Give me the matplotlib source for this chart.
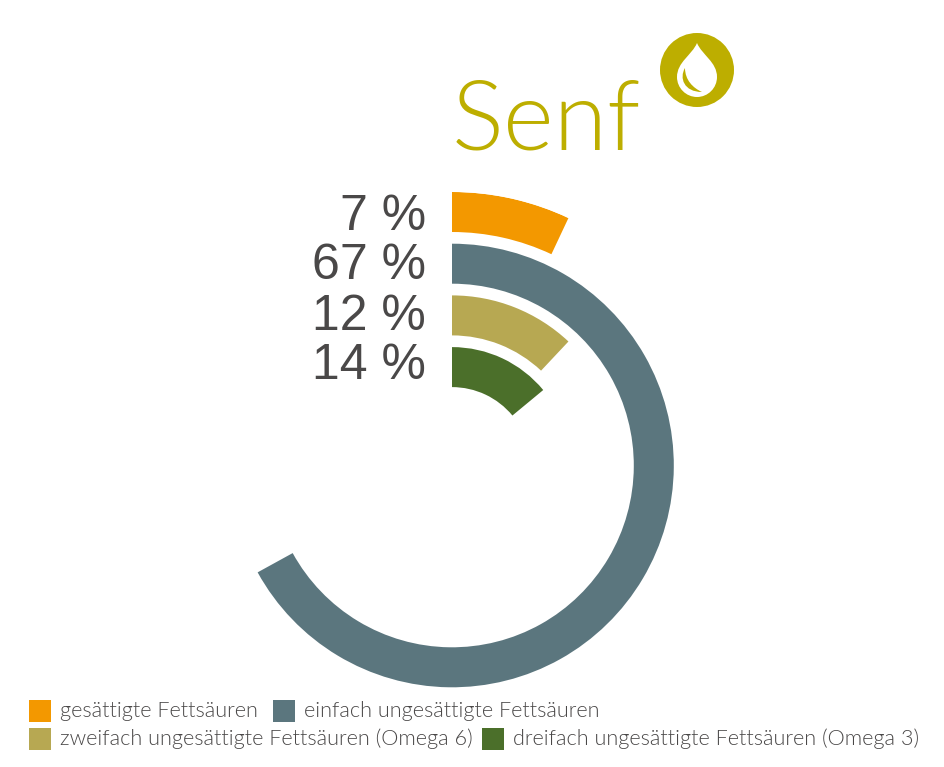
import numpy as np
import matplotlib
matplotlib.use("Agg")
import matplotlib.pyplot as plt
from matplotlib.patches import Circle, PathPatch, Rectangle
from matplotlib.path import Path

title = "Senf"
categories = [
    "gesättigte Fettsäuren",
    "einfach ungesättigte Fettsäuren",
    "zweifach ungesättigte Fettsäuren (Omega 6)",
    "dreifach ungesättigte Fettsäuren (Omega 3)",
]
shares = [7, 67, 12, 14]
colors = ["#F39800", "#5B767E", "#B7A852", "#4B6F2A"]

W, H = 945, 767
gold = "#BDAE00"
grey = "#4A4848"

fig = plt.figure(figsize=(W / 100, H / 100), dpi=100, facecolor="white")

# overlay in pixel units for the texts, icon and legend
bg = fig.add_axes([0, 0, 1, 1])
bg.set_xlim(0, W)
bg.set_ylim(H, 0)
bg.axis("off")

# rings, outermost first
cx, cy = 452, 465.5
r_max = 273.5
ring_w = 40
ring_step = 51.7
ax = fig.add_axes([(cx - r_max) / W, 1 - (cy + r_max) / H, 2 * r_max / W, 2 * r_max / H],
                  projection="polar")
ax.patch.set_alpha(0)
ax.set_theta_zero_location("N")
ax.set_theta_direction(-1)
for i, (s, c) in enumerate(zip(shares, colors)):
    bottom = r_max - ring_w - i * ring_step
    ax.bar(0, ring_w, width=s / 100 * 2 * np.pi, bottom=bottom, align="edge", color=c, linewidth=0)
ax.set_ylim(0, r_max)
ax.axis("off")

# percent labels
label_y = [217, 266, 317, 366]
for s, y in zip(shares, label_y):
    bg.text(426, y, f"{s} %", ha="right", va="center", fontsize=36,
            family="Liberation Sans", color=grey)

bg.text(452, 150, title, ha="left", va="baseline", fontsize=70, family="Lato",
        fontweight=300, color=gold)

# oil drop icon
bg.add_patch(Circle((697, 70), 37, color=gold, linewidth=0))
drop = Path(
    [(697, 43), (692, 55), (677, 62), (677, 77), (677, 88), (686, 97), (697, 97),
     (708, 97), (717, 88), (717, 77), (717, 62), (702, 55), (697, 43), (697, 43)],
    [Path.MOVETO, Path.CURVE4, Path.CURVE4, Path.CURVE4, Path.CURVE4, Path.CURVE4, Path.CURVE4,
     Path.CURVE4, Path.CURVE4, Path.CURVE4, Path.CURVE4, Path.CURVE4, Path.CURVE4, Path.CLOSEPOLY],
)
bg.add_patch(PathPatch(drop, facecolor="white", linewidth=0))
crescent = Path(
    [(685, 68), (679, 78), (684, 92), (702, 92), (693, 88), (685, 80), (685, 68), (685, 68)],
    [Path.MOVETO, Path.CURVE4, Path.CURVE4, Path.CURVE4, Path.CURVE4, Path.CURVE4, Path.CURVE4,
     Path.CLOSEPOLY],
)
bg.add_patch(PathPatch(crescent, facecolor=gold, linewidth=0))

# legend, two rows
swatch_x = [29, 273, 29, 482]
swatch_y = [700, 700, 728, 728]
for name, c, x, y in zip(categories, colors, swatch_x, swatch_y):
    bg.add_patch(Rectangle((x, y), 22, 22, facecolor=c, linewidth=0))
    bg.text(x + 31, y + 11, name, ha="left", va="center", fontsize=15.6, family="Lato",
            fontweight=300, color=grey)

fig.savefig("out.png", dpi=100)
